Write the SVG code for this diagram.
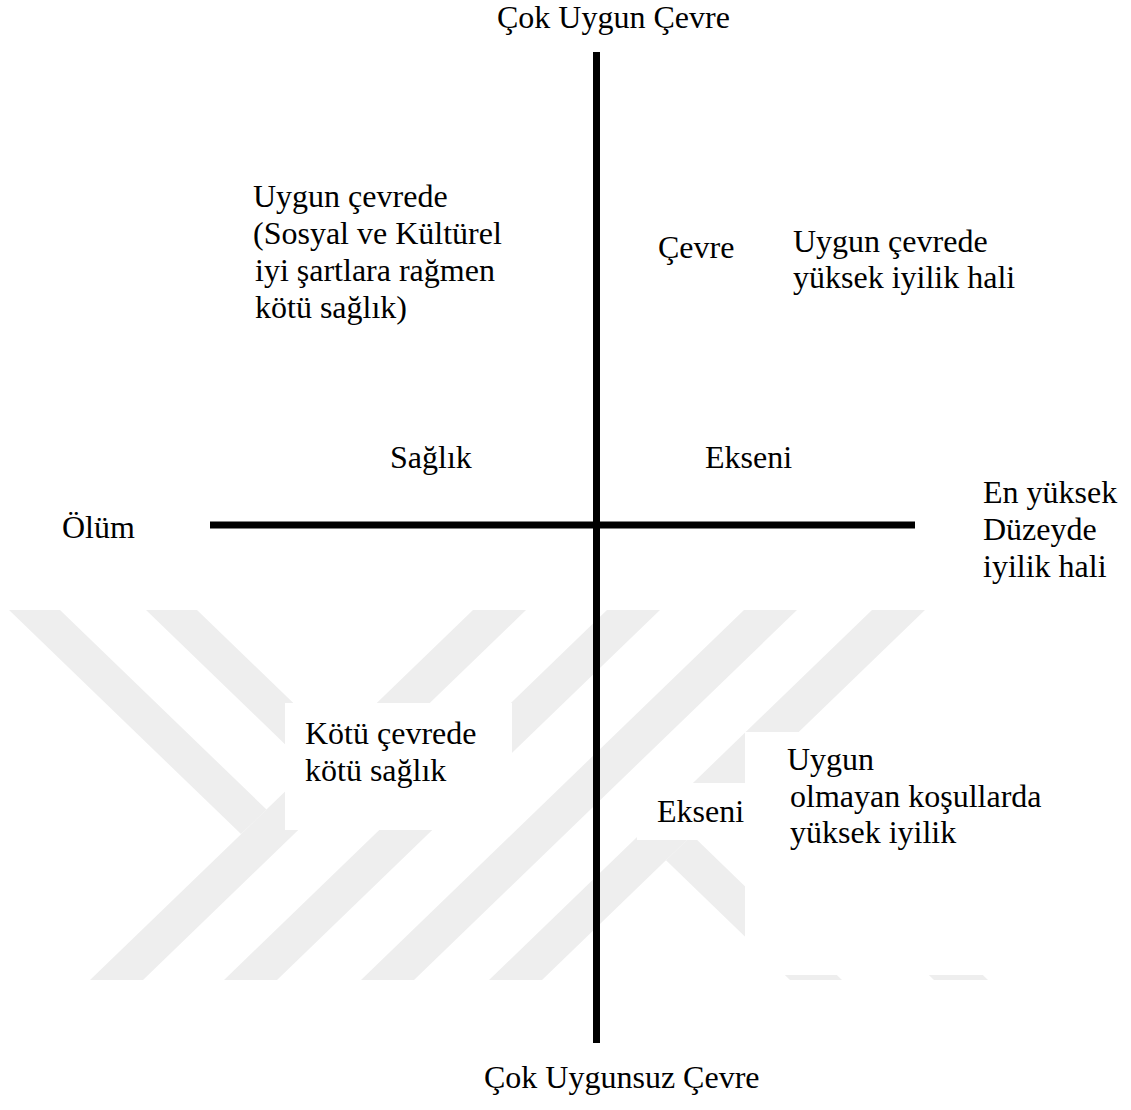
<svg xmlns="http://www.w3.org/2000/svg" width="1131" height="1110" viewBox="0 0 1131 1110">
  <style>
    .t { font-family: "Liberation Serif", "Times New Roman", serif; font-size: 32px; fill: #000; }
    .wm { fill: #eeeeee; }
    .mask { fill: #ffffff; }
    .axis { stroke: #000; stroke-width: 7; fill: none; }
  </style>
  <rect width="1131" height="1110" fill="#ffffff"/>
  <g id="watermark">
    <polygon class="wm" points="90,980 143,980 526,610 473,610"/>
    <polygon class="wm" points="224,980 277,980 660,610 607,610"/>
    <polygon class="wm" points="361,980 414,980 797,610 744,610"/>
    <polygon class="wm" points="489,980 542,980 925,610 872,610"/>
    <polygon class="wm" points="9,610 60,610 266.5,809.5 241,834.1"/>
    <polygon class="wm" points="146,610 197,610 335,743.3 309.4,767.9"/>
    <polygon class="wm" points="666,860.2 692,835.1 842,980 790,980"/>
    <polygon class="wm" points="738,790.6 765,764.5 988,980 934,980"/>
  </g>
  <g id="masks">
    <rect class="mask" x="285" y="703" width="227" height="127"/>
    <rect class="mask" x="637" y="783" width="108" height="57"/>
    <rect class="mask" x="745" y="732" width="260" height="243"/>
  </g>
  <g id="connectors">
    <line class="axis" x1="596.5" y1="52" x2="596.5" y2="1043"/>
    <line class="axis" x1="210" y1="525" x2="915" y2="525"/>
  </g>
  <g id="top-label"><text class="t" x="497" y="28">Çok Uygun Çevre</text></g>
  <g id="bottom-label"><text class="t" x="484" y="1088">Çok Uygunsuz Çevre</text></g>
  <g id="left-label"><text class="t" x="62" y="538">Ölüm</text></g>
  <g id="right-label">
    <text class="t" x="983" y="503">En yüksek</text>
    <text class="t" x="983" y="540">Düzeyde</text>
    <text class="t" x="983" y="577">iyilik hali</text>
  </g>
  <g id="axis-health-left"><text class="t" x="390" y="468">Sağlık</text></g>
  <g id="axis-health-right"><text class="t" x="705" y="468">Ekseni</text></g>
  <g id="axis-env-top"><text class="t" x="658" y="258">Çevre</text></g>
  <g id="axis-env-bottom"><text class="t" x="657" y="822">Ekseni</text></g>
  <g id="quadrant-top-left">
    <text class="t" x="253" y="207">Uygun çevrede</text>
    <text class="t" x="253" y="244">(Sosyal ve Kültürel</text>
    <text class="t" x="255" y="281">iyi şartlara rağmen</text>
    <text class="t" x="255" y="318">kötü sağlık)</text>
  </g>
  <g id="quadrant-top-right">
    <text class="t" x="793" y="252">Uygun çevrede</text>
    <text class="t" x="793" y="288">yüksek iyilik hali</text>
  </g>
  <g id="quadrant-bottom-left">
    <text class="t" x="305" y="744">Kötü çevrede</text>
    <text class="t" x="305" y="781">kötü sağlık</text>
  </g>
  <g id="quadrant-bottom-right">
    <text class="t" x="787" y="770">Uygun</text>
    <text class="t" x="790" y="807">olmayan koşullarda</text>
    <text class="t" x="790" y="843">yüksek iyilik</text>
  </g>
</svg>
